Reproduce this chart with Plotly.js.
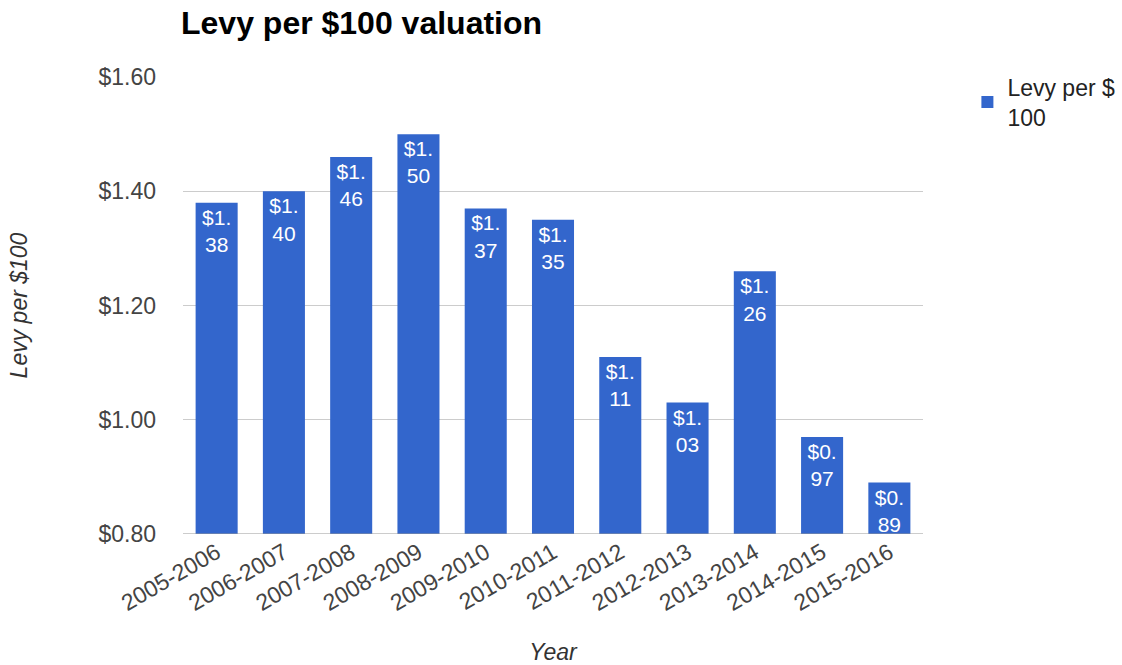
<!DOCTYPE html>
<html>
<head>
<meta charset="utf-8">
<script src="https://cdn.plot.ly/plotly-3.0.1.min.js"></script>
<style>
html,body{margin:0;padding:0;background:#fff;}
#chart{width:1122px;height:665px;}
</style>
</head>
<body>
<div id="chart"></div>
<script>
const years = ["2005-2006","2006-2007","2007-2008","2008-2009","2009-2010","2010-2011","2011-2012","2012-2013","2013-2014","2014-2015","2015-2016"];
const levy = [1.38,1.40,1.46,1.50,1.37,1.35,1.11,1.03,1.26,0.97,0.89];
const yTicks = [0.8,1.0,1.2,1.4,1.6];
const seriesName = "Levy per $<br>100";

const labels = levy.map(v => {
  const s = "$" + v.toFixed(2);
  const i = s.indexOf(".") + 1;
  return s.slice(0, i) + "<br>" + s.slice(i);
});

const font = "Arial, 'Liberation Sans', sans-serif";

const trace = {
  type: "bar",
  x: years,
  y: levy,
  name: seriesName,
  marker: {color: "#3366cc"},
  text: labels,
  texttemplate: "%{text}",
  textposition: "inside",
  insidetextanchor: "end",
  textangle: 0,
  constraintext: "none",
  cliponaxis: true,
  textfont: {family: font, size: 21, color: "#ffffff"},
  hoverinfo: "x+y"
};

const layout = {
  width: 1122,
  height: 665,
  paper_bgcolor: "#ffffff",
  plot_bgcolor: "#ffffff",
  margin: {l: 183, r: 199, t: 77, b: 131, autoexpand: false},
  font: {family: font, color: "#444"},
  title: {
    text: "<b>Levy per $100 valuation</b>",
    font: {family: font, size: 32, color: "#000"},
    xref: "container", x: 181 / 1122, xanchor: "left",
    yref: "container", y: 0.966, yanchor: "middle"
  },
  bargap: 0.375,
  showlegend: true,
  legend: {
    x: 1.06, y: 1.025, xanchor: "left", yanchor: "top",
    font: {family: font, size: 23, color: "#222"},
    itemwidth: 30
  },
  xaxis: {
    type: "category",
    tickangle: -30,
    tickfont: {family: font, size: 23, color: "#444"},
    showgrid: false,
    showline: false,
    ticks: "",
    automargin: false,
    title: {text: "Year", font: {family: font, size: 23, color: "#333", style: "italic"}, standoff: 30}
  },
  yaxis: {
    range: [0.8, 1.6],
    tickvals: yTicks,
    tickformat: "$.2f",
    tickfont: {family: font, size: 23, color: "#444"},
    showgrid: true,
    gridcolor: "#cccccc",
    gridwidth: 1,
    zeroline: false,
    showline: false,
    ticks: "",
    automargin: false,
    ticklabelstandoff: 26,
    title: {text: "Levy per $100", font: {family: font, size: 23, color: "#333", style: "italic"}, standoff: 64}
  },
  shapes: [{
    type: "line", xref: "paper", yref: "y", x0: 0, x1: 1, y0: 0.8, y1: 0.8,
    line: {color: "#999", width: 1}
  }]
};

Plotly.newPlot("chart", [trace], layout, {displayModeBar: false, staticPlot: true});
</script>
</body>
</html>
